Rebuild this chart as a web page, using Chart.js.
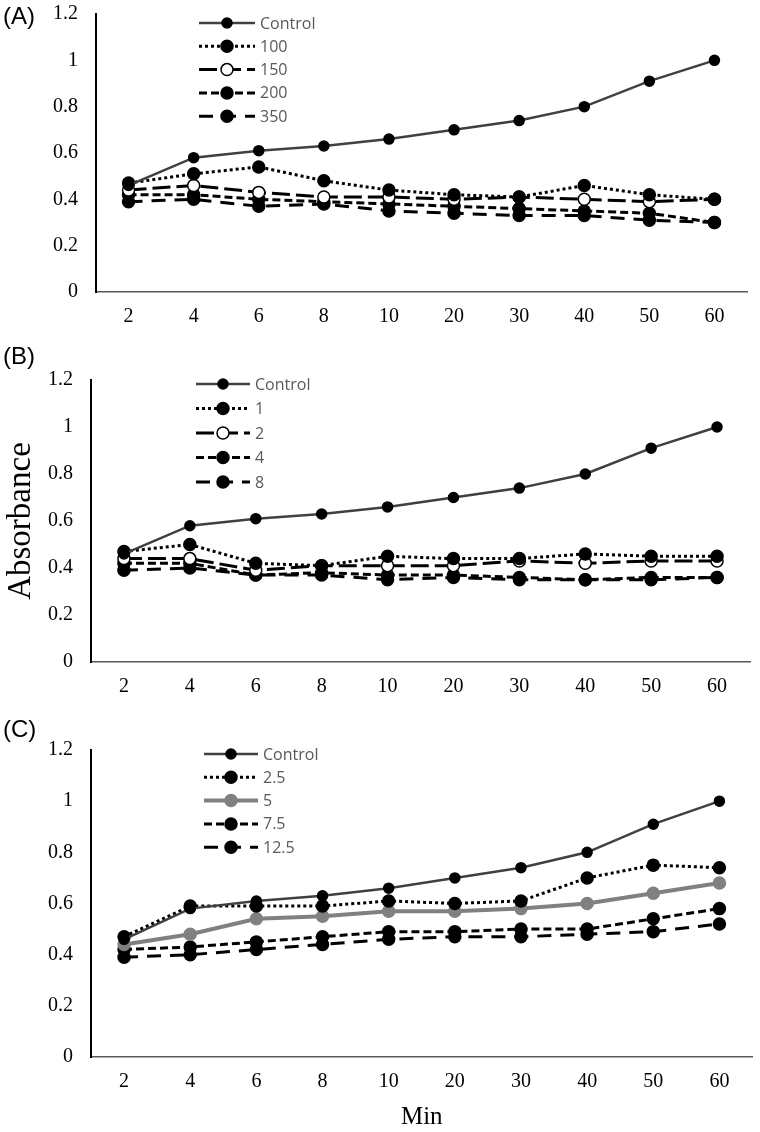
<!DOCTYPE html>
<html>
<head>
  <meta charset="UTF-8">
  <title>Absorbance over time</title>
  <script src="https://cdn.jsdelivr.net/npm/chart.js@4.4.0/dist/chart.umd.min.js"></script>
  <style>
    body { margin: 0; background: #fff; overflow: hidden; }
    #page { position: relative; width: 760px; height: 1132px; overflow: hidden; }
    .panel { position: absolute; left: 0; }
    .tag { position: absolute; left: 3px; font: 24px "Liberation Sans", Arial, sans-serif; color: #000; line-height: 28px; }
  </style>
</head>
<body>
<div id="page">
  <canvas class="panel" id="chartA" width="760" height="361" style="top:-36px"></canvas>
  <canvas class="panel" id="chartB" width="760" height="372" style="top:330px"></canvas>
  <canvas class="panel" id="chartC" width="760" height="432" style="top:700px"></canvas>
  <div class="tag" style="top:2px">(A)</div>
  <div class="tag" style="top:342px">(B)</div>
  <div class="tag" style="top:715px">(C)</div>
</div>

<script>
  // x categories (minutes) and y tick values
  const minutes = ['2', '4', '6', '8', '10', '20', '30', '40', '50', '60'];
  const yTicks = [0, 0.2, 0.4, 0.6, 0.8, 1, 1.2];

  // same control curve in every panel
  const control = [0.46, 0.58, 0.61, 0.63, 0.66, 0.70, 0.74, 0.80, 0.91, 1.00];

  // panel A
  const labelsA = ['Control', '100', '150', '200', '350'];
  const a100 = [0.47, 0.51, 0.54, 0.48, 0.44, 0.42, 0.41, 0.46, 0.42, 0.40];
  const a150 = [0.44, 0.46, 0.43, 0.41, 0.41, 0.40, 0.41, 0.40, 0.39, 0.40];
  const a200 = [0.42, 0.42, 0.40, 0.39, 0.38, 0.37, 0.36, 0.35, 0.34, 0.30];
  const a350 = [0.39, 0.40, 0.37, 0.38, 0.35, 0.34, 0.33, 0.33, 0.31, 0.30];

  // panel B
  const labelsB = ['Control', '1', '2', '4', '8'];
  const b1 = [0.47, 0.50, 0.42, 0.41, 0.45, 0.44, 0.44, 0.46, 0.45, 0.45];
  const b2 = [0.44, 0.44, 0.39, 0.41, 0.41, 0.41, 0.43, 0.42, 0.43, 0.43];
  const b4 = [0.42, 0.42, 0.37, 0.38, 0.37, 0.37, 0.36, 0.35, 0.36, 0.36];
  const b8 = [0.39, 0.40, 0.37, 0.37, 0.35, 0.36, 0.35, 0.35, 0.35, 0.36];

  // panel C
  const labelsC = ['Control', '2.5', '5', '7.5', '12.5'];
  const c25 = [0.47, 0.59, 0.59, 0.59, 0.61, 0.60, 0.61, 0.70, 0.75, 0.74];
  const c5 = [0.44, 0.48, 0.54, 0.55, 0.57, 0.57, 0.58, 0.60, 0.64, 0.68];
  const c75 = [0.42, 0.43, 0.45, 0.47, 0.49, 0.49, 0.50, 0.50, 0.54, 0.58];
  const c125 = [0.39, 0.40, 0.42, 0.44, 0.46, 0.47, 0.47, 0.48, 0.49, 0.52];

  const serif = '"Liberation Serif", "Times New Roman", serif';

  // line styles, one per series slot
  const styles = [
    { color: '#404040', width: 2.5, dash: [], radius: 5, fill: '#000' },
    { color: '#000', width: 3, dash: [3, 3], radius: 6, fill: '#000' },
    { color: '#000', width: 3, dash: [18, 6], radius: 6, fill: '#fff' },
    { color: '#000', width: 3, dash: [8, 4], radius: 6, fill: '#000' },
    { color: '#000', width: 3, dash: [14, 9], radius: 6, fill: '#000' }
  ];
  const grayStyle = { color: '#808080', width: 4, dash: [], radius: 6, fill: '#808080', border: '#808080' };

  function makeSets(labels, series, override) {
    return series.map((data, i) => {
      const s = (override && override[i]) || styles[i];
      return {
        label: labels[i],
        data: data,
        borderColor: s.color,
        borderWidth: s.width,
        borderDash: s.dash,
        pointRadius: s.radius,
        pointBackgroundColor: s.fill,
        pointBorderColor: s.border || '#000',
        pointBorderWidth: 1.5,
        tension: 0,
        fill: false
      };
    });
  }

  // draws the small line + marker samples inside the plot
  const sampleLegend = {
    id: 'sampleLegend',
    afterDraw(chart, args, opts) {
      const ctx = chart.ctx;
      chart.data.datasets.forEach((ds, i) => {
        const y = opts.top + i * opts.step;
        const cx = opts.x + opts.len / 2;
        ctx.save();
        ctx.strokeStyle = ds.borderColor;
        ctx.lineWidth = ds.borderWidth;
        ctx.setLineDash(ds.borderDash || []);
        ctx.beginPath();
        ctx.moveTo(opts.x, y);
        ctx.lineTo(opts.x + opts.len, y);
        ctx.stroke();
        ctx.setLineDash([]);
        ctx.beginPath();
        ctx.arc(cx, y, ds.pointRadius, 0, Math.PI * 2);
        ctx.fillStyle = ds.pointBackgroundColor;
        ctx.fill();
        ctx.lineWidth = ds.pointBorderWidth;
        ctx.strokeStyle = ds.pointBorderColor;
        ctx.stroke();
        ctx.fillStyle = '#595959';
        ctx.font = '16px "Open Sans", sans-serif';
        ctx.textBaseline = 'middle';
        ctx.fillText(ds.label, opts.x + opts.len + 5, y + 1);
        ctx.restore();
      });
    }
  };

  function makeChart(id, datasets, cfg) {
    new Chart(document.getElementById(id), {
      type: 'line',
      data: { labels: minutes, datasets: datasets },
      plugins: [sampleLegend],
      options: {
        responsive: false,
        animation: false,
        layout: { padding: { left: 0, right: 760 - cfg.right, top: cfg.top, bottom: 0 } },
        plugins: {
          legend: { display: false },
          tooltip: { enabled: false },
          sampleLegend: cfg.legend
        },
        scales: {
          x: {
            offset: true,
            grid: { display: false, drawTicks: false },
            border: { color: '#595959', width: 1.5 },
            ticks: { color: '#000', font: { family: serif, size: 20 }, padding: 13, maxRotation: 0 },
            title: cfg.xTitle
              ? { display: true, text: cfg.xTitle, color: '#000', font: { family: serif, size: 25 }, padding: { top: 0, bottom: 0 } }
              : { display: false },
            afterFit(s) { s.height = cfg.xh; }
          },
          y: {
            min: 0,
            max: 1.2,
            afterBuildTicks(s) { s.ticks = yTicks.map(v => ({ value: v })); },
            grid: { display: false, drawTicks: false },
            border: { color: '#000', width: 2 },
            ticks: {
              color: '#000',
              font: { family: serif, size: 20 },
              padding: 18,
              callback: v => String(+(+v).toFixed(1))
            },
            title: cfg.yTitle
              ? { display: true, text: cfg.yTitle, color: '#000', font: { family: serif, size: 33 }, padding: { top: 2, bottom: 0 } }
              : { display: false },
            afterFit(s) { s.width = cfg.left; }
          }
        }
      }
    });
  }

  makeChart('chartA', makeSets(labelsA, [control, a100, a150, a200, a350]), {
    left: 96, right: 747, top: 50, xh: 33,
    legend: { x: 199, len: 56, top: 59, step: 23.3 }
  });

  makeChart('chartB', makeSets(labelsB, [control, b1, b2, b4, b8]), {
    left: 91, right: 750, top: 50, xh: 40, yTitle: 'Absorbance',
    legend: { x: 196, len: 54, top: 54, step: 24.5 }
  });

  makeChart('chartC', makeSets(labelsC, [control, c25, c5, c75, c125], { 2: grayStyle }), {
    left: 91, right: 755, top: 50, xh: 75, xTitle: 'Min',
    legend: { x: 204, len: 54, top: 54, step: 23.3 }
  });
</script>
</body>
</html>
